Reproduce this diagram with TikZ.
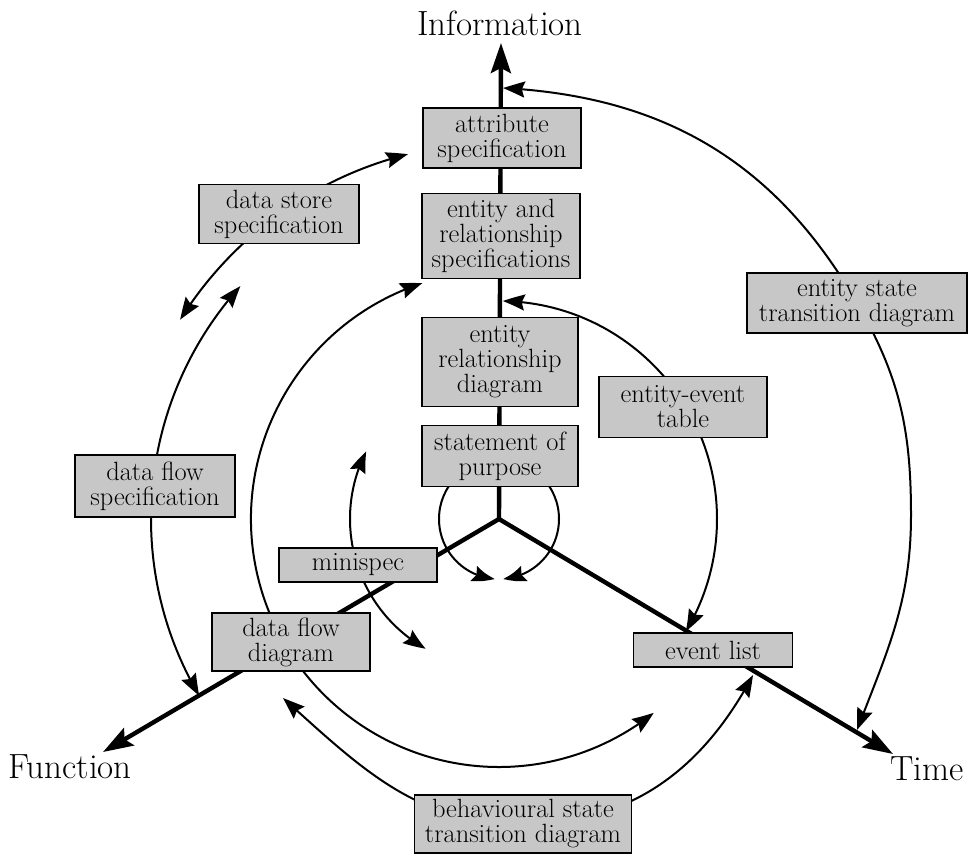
\documentclass[tikz,border=0pt]{standalone}
\usepackage{fontspec}
\usetikzlibrary{arrows.meta,bending,backgrounds}
\begin{document}
\begin{tikzpicture}[x=1pt,y=1pt,
  axis/.style={line width=4.4pt,-{Stealth[length=30pt,width=20pt,inset=5pt]}},
  flow/.style={line width=2pt},
  head/.style={Stealth[length=22pt,width=16pt,inset=3pt,bend]},
  tipend/.style={flow,-{Stealth[length=22pt,width=16pt,inset=3pt,bend]}},
  both/.style={flow,{Stealth[length=22pt,width=16pt,inset=3pt,bend]}-{Stealth[length=22pt,width=16pt,inset=3pt,bend]}},
  box/.style={draw=black,line width=1.6pt,fill=black!22,inner sep=0pt,align=center,
    font=\fontsize{26.4}{25}\selectfont},
  axislabel/.style={font=\fontsize{35}{38}\selectfont,anchor=base}]

\useasboundingbox (0,0) rectangle (972,-855);

% origin and axis end points
\coordinate (O) at (499,-519);
\coordinate (infoTip) at (501,-43);
\coordinate (funTip) at (103,-752);
\coordinate (timeTip) at (893,-754);

% axis labels
\node[axislabel] (info) at (500,-35) {Information};
\node[axislabel] (fun) at (70,-778) {Function};
\node[axislabel] (time) at (927,-780) {Time};

% models
\node[box,minimum width=158pt,minimum height=60pt] (attr) at (502,-138) {attribute\\specification};
\node[box,minimum width=158pt,minimum height=85pt] (ers) at (501,-236) {entity and\\relationship\\specifications};
\node[box,minimum width=156pt,minimum height=89pt] (erd) at (500,-362) {entity\\relationship\\diagram};
\node[box,minimum width=156pt,minimum height=61pt] (sop) at (500,-456) {statement of\\purpose};
\node[box,minimum width=158pt,minimum height=34pt] (mini) at (358,-565) {minispec};
\node[box,minimum width=158pt,minimum height=58pt] (dfd) at (291,-642) {data flow\\diagram};
\node[box,minimum width=159pt,minimum height=34pt] (evl) at (713,-650) {event list};
\node[box,minimum width=217pt,minimum height=58pt] (bstd) at (523,-824) {behavioural state\\transition diagram};
\node[box,minimum width=220pt,minimum height=60pt] (estd) at (857,-303) {entity state\\transition diagram};
\node[box,minimum width=168pt,minimum height=61pt] (eet) at (683,-407) {entity-event\\table};
\node[box,minimum width=160pt,minimum height=59pt] (dss) at (279,-214) {data store\\specification};
\node[box,minimum width=160pt,minimum height=62pt] (dfs) at (155,-486) {data flow\\specification};

\begin{scope}[on background layer]
  % the three axes
  \draw[axis] (O) -- (infoTip);
  \draw[axis] (O) -- (funTip);
  \draw[axis] (O) -- (timeTip);

  % small loop around the origin
  \path (O) ++(90:60) coordinate (loopTop);
  \draw[tipend] (loopTop) arc[start angle=90, end angle=266, radius=60];
  \draw[tipend] (loopTop) arc[start angle=90, end angle=-86, radius=60];

  % minispec
  \path (O) ++(153:149) coordinate (msA);
  \draw[both] (msA) arc[start angle=153, end angle=240.5, radius=149];

  % entity-event table
  \path (O) ++(89:218) coordinate (eeA);
  \draw[both] (eeA) arc[start angle=89, end angle=-31, radius=218];

  % entity and relationship specifications / data flow diagram
  \path (O) ++(108:248) coordinate (erA);
  \draw[both] (erA) arc[start angle=108, end angle=308.6, radius=248];

  % behavioural state transition diagram
  \coordinate (bsA) at (283,-698);
  \coordinate (bsB) at (753,-675);
  \draw[both] (bsA) to[out=-42,in=180] (bstd.center) to[out=0,in=-118] (bsB);

  % data flow specification
  \path (O) ++(138:348) coordinate (dfA);
  \draw[both] (dfA) arc[start angle=138, end angle=210.5, radius=348];

  % data store specification
  \path (O) ++(104:376) coordinate (dsA);
  \draw[both] (dsA) arc[start angle=104, end angle=148, radius=376];

  % entity state transition diagram
  \coordinate (esA) at (503,-88);
  \coordinate (esM) at (911,-515);
  \coordinate (esB) at (857,-730);
  \draw[both] (esA) to[out=-3,in=120] (estd.center) to[out=-60,in=90] (esM)
    to[out=-90,in=69] (esB);
\end{scope}
\end{tikzpicture}
\end{document}
